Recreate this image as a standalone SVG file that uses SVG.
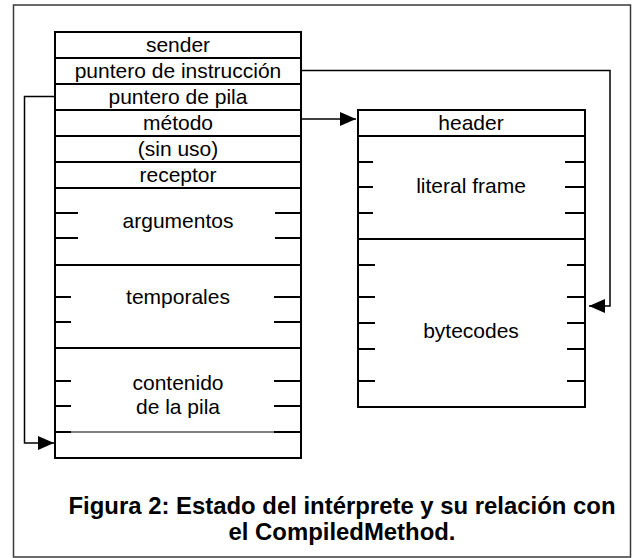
<svg xmlns="http://www.w3.org/2000/svg" width="633" height="558" viewBox="0 0 633 558">
<defs>
<style>
.frame{fill:none;stroke:#3a3a3a;stroke-width:1.5}
.box{fill:#fff;stroke:#000;stroke-width:2}
.ln{stroke:#000;stroke-width:2;fill:none}
.thin{stroke:#000;stroke-width:1;fill:none}
.con{stroke:#000;stroke-width:1.5;fill:none}
.t{font-family:"Liberation Sans",Arial,sans-serif;font-size:21px;fill:#000;text-anchor:middle}
.cap{font-family:"Liberation Sans",Arial,sans-serif;font-size:23.9px;font-weight:bold;fill:#000;text-anchor:middle}
</style>
<marker id="ah" viewBox="0 0 16 14" refX="16" refY="7" markerWidth="16" markerHeight="14" markerUnits="userSpaceOnUse" orient="auto">
<path d="M0,0 L16,7 L0,14 Z" fill="#000"/>
</marker>
</defs>
<rect width="633" height="558" fill="#fff"/>
<rect class="frame" x="13.5" y="5" width="617" height="552"/>

<g id="frame-stack">
<rect class="box" x="55" y="32" width="246" height="426"/>
<line class="ln" x1="55" y1="58" x2="301" y2="58"/>
<line class="ln" x1="55" y1="84" x2="301" y2="84"/>
<line class="ln" x1="55" y1="110" x2="301" y2="110"/>
<line class="ln" x1="55" y1="136" x2="301" y2="136"/>
<line class="ln" x1="55" y1="162" x2="301" y2="162"/>
<line class="ln" x1="55" y1="188" x2="301" y2="188"/>
<line class="ln" x1="55" y1="265" x2="301" y2="265"/>
<line class="ln" x1="55" y1="348" x2="301" y2="348"/>
<line class="thin" x1="55" y1="432" x2="301" y2="432"/>
<path class="ln" d="M55,213H78M55,238H78M275,213H301M275,238H301"/>
<path class="ln" d="M55,297H71M55,322H71M274,297H301M274,322H301"/>
<path class="ln" d="M55,381H71M55,406H71M274,381H301M274,406H301M55,432H71M274,432H301"/>
<text class="t" x="178" y="52">sender</text>
<text class="t" x="178" y="78">puntero de instrucción</text>
<text class="t" x="178" y="104">puntero de pila</text>
<text class="t" x="178" y="130">método</text>
<text class="t" x="178" y="156">(sin uso)</text>
<text class="t" x="178" y="182">receptor</text>
<text class="t" x="178" y="228">argumentos</text>
<text class="t" x="178" y="304">temporales</text>
<text class="t" x="178" y="390">contenido</text>
<text class="t" x="178" y="414">de la pila</text>
</g>

<g id="compiled-method">
<rect class="box" x="358" y="110" width="227" height="297"/>
<line class="ln" x1="358" y1="136" x2="585" y2="136"/>
<line class="ln" x1="358" y1="239" x2="585" y2="239"/>
<path class="ln" d="M358,162H373M358,187H373M358,213H373M565,162H585M565,187H585M565,213H585"/>
<path class="ln" d="M358,265H375M358,297H375M358,323H375M358,349H375M358,381H375M567,265H585M567,297H585M567,323H585M567,349H585M567,381H585"/>
<text class="t" x="471" y="130">header</text>
<text class="t" x="471" y="193">literal frame</text>
<text class="t" x="471" y="338">bytecodes</text>
</g>

<g id="connectors">
<path class="con" d="M301,70.5H610V306H589" marker-end="url(#ah)"/>
<path class="con" d="M55,96.5H24.5V443H54" marker-end="url(#ah)"/>
<path class="con" d="M301,119H356" marker-end="url(#ah)"/>
</g>

<g id="caption">
<text class="cap" x="342" y="513.5">Figura 2: Estado del intérprete y su relación con</text>
<text class="cap" x="342" y="540">el CompiledMethod.</text>
</g>
</svg>
